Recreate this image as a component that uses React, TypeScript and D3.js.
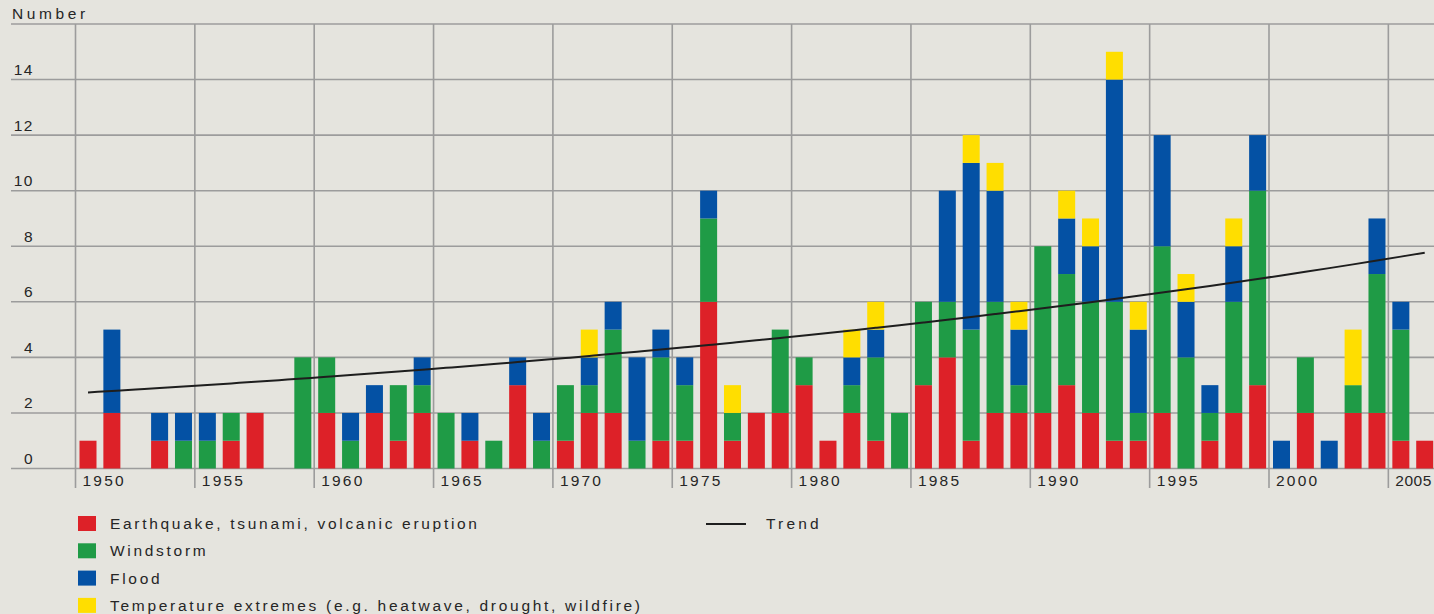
import React, { useEffect } from "react";
import * as d3 from "d3";

const years = [
  1950, 1951, 1952, 1953, 1954, 1955, 1956, 1957, 1958, 1959,
  1960, 1961, 1962, 1963, 1964, 1965, 1966, 1967, 1968, 1969,
  1970, 1971, 1972, 1973, 1974, 1975, 1976, 1977, 1978, 1979,
  1980, 1981, 1982, 1983, 1984, 1985, 1986, 1987, 1988, 1989,
  1990, 1991, 1992, 1993, 1994, 1995, 1996, 1997, 1998, 1999,
  2000, 2001, 2002, 2003, 2004, 2005, 2006,
];

const earthquake = [
  1, 2, 0, 1, 0, 0, 1, 2, 0, 0,
  2, 0, 2, 1, 2, 0, 1, 0, 3, 0,
  1, 2, 2, 0, 1, 1, 6, 1, 2, 2,
  3, 1, 2, 1, 0, 3, 4, 1, 2, 2,
  2, 3, 2, 1, 1, 2, 0, 1, 2, 3,
  0, 2, 0, 2, 2, 1, 1,
];
const windstorm = [
  0, 0, 0, 0, 1, 1, 1, 0, 0, 4,
  2, 1, 0, 2, 1, 2, 0, 1, 0, 1,
  2, 1, 3, 1, 3, 2, 3, 1, 0, 3,
  1, 0, 1, 3, 2, 3, 2, 4, 4, 1,
  6, 4, 4, 5, 1, 6, 4, 1, 4, 7,
  0, 2, 0, 1, 5, 4, 0,
];
const flood = [
  0, 3, 0, 1, 1, 1, 0, 0, 0, 0,
  0, 1, 1, 0, 1, 0, 1, 0, 1, 1,
  0, 1, 1, 3, 1, 1, 1, 0, 0, 0,
  0, 0, 1, 1, 0, 0, 4, 6, 4, 2,
  0, 2, 2, 8, 3, 4, 2, 1, 2, 2,
  1, 0, 1, 0, 2, 1, 0,
];
const temperature = [
  0, 0, 0, 0, 0, 0, 0, 0, 0, 0,
  0, 0, 0, 0, 0, 0, 0, 0, 0, 0,
  0, 1, 0, 0, 0, 0, 0, 1, 0, 0,
  0, 0, 1, 1, 0, 0, 0, 1, 1, 1,
  0, 1, 1, 1, 1, 0, 1, 0, 1, 0,
  0, 0, 0, 2, 0, 0, 0,
];

const seriesKeys = ["earthquake", "windstorm", "flood", "temperature"];
const seriesLabels = [
  "Earthquake, tsunami, volcanic eruption",
  "Windstorm",
  "Flood",
  "Temperature extremes (e.g. heatwave, drought, wildfire)",
];
const seriesColors = ["#dd2128", "#1f9b46", "#0451a4", "#ffde00"];

const yTicks = [0, 2, 4, 6, 8, 10, 12, 14, 16];
const yTickLabels = ["0", "2", "4", "6", "8", "10", "12", "14", ""];
const xTickYears = [1950, 1955, 1960, 1965, 1970, 1975, 1980, 1985, 1990, 1995, 2000, 2005];

// Trend (exponential fit) end values
const trendYears = [1950, 2006];
const trendValues = [2.74, 7.77];

const W = 1434;
const H = 614;
const FONT = "'Liberation Sans', Arial, Helvetica, sans-serif";
const BG = "#e5e4de";
const GRID = "#9c9c9c";
const TEXT = "#262626";

export default function App() {
  useEffect(() => {
    document.body.style.margin = "0";
    document.body.style.background = BG;
  }, []);

  const rows = years.map((yr, i) => ({
    year: yr,
    earthquake: earthquake[i],
    windstorm: windstorm[i],
    flood: flood[i],
    temperature: temperature[i],
  }));
  const stacked = d3.stack<any>().keys(seriesKeys)(rows);

  const step = 23.87;
  const pIn = 1 - 17 / step;
  const x0 = 79.5;
  const x = d3
    .scaleBand<number>()
    .domain(years)
    .range([x0, x0 + step * (years.length - pIn)])
    .paddingInner(pIn)
    .paddingOuter(0);
  const bw = x.bandwidth();

  const y = d3.scaleLinear().domain([0, 16]).range([468.5, 24]);

  const gridLeft = 11;
  const gridRight = W;

  const lineX = (yr: number) => (x(yr) as number) - 4;

  const t0 = trendYears[0];
  const t1 = trendYears[1];
  const trendPts = years.map((yr) => {
    const f = (yr - t0) / (t1 - t0);
    const v = Math.exp(Math.log(trendValues[0]) + f * (Math.log(trendValues[1]) - Math.log(trendValues[0])));
    return [(x(yr) as number) + bw / 2, y(v)] as [number, number];
  });
  const trendPath = d3.line().curve(d3.curveMonotoneX)(trendPts) || "";

  const fs = 15.5;
  const ls = 2.7;

  return (
    <svg
      width={W}
      height={H}
      style={{ position: "absolute", left: 0, top: 0, background: BG, display: "block" }}
      fontFamily={FONT}
    >
      <rect x={0} y={0} width={W} height={H} fill={BG} />
      <text x={12} y={19} fontSize={fs} fill={TEXT} letterSpacing={3.6}>
        Number
      </text>

      {yTicks.map((t) => (
        <line key={"h" + t} x1={gridLeft} x2={gridRight} y1={y(t)} y2={y(t)} stroke={GRID} strokeWidth={1.6} />
      ))}
      {yTicks.map((t, i) => (
        <text key={"yl" + t} x={34} y={y(t) - 4.5} fontSize={fs} fill={TEXT} textAnchor="end" letterSpacing={1.5}>
          {yTickLabels[i]}
        </text>
      ))}
      {xTickYears.map((yr) => (
        <line
          key={"v" + yr}
          x1={lineX(yr)}
          x2={lineX(yr)}
          y1={y(16)}
          y2={488}
          stroke={GRID}
          strokeWidth={1.6}
        />
      ))}
      {xTickYears.map((yr, i) => (
        <text
          key={"xl" + yr}
          x={lineX(yr) + 7}
          y={486}
          fontSize={fs}
          fill={TEXT}
          letterSpacing={i === xTickYears.length - 1 ? 0.5 : 2.2}
        >
          {yr}
        </text>
      ))}

      {stacked.map((s, si) => (
        <g key={s.key} fill={seriesColors[si]}>
          {s.map((d, di) =>
            d[1] - d[0] > 0 ? (
              <rect
                key={di}
                x={x(years[di]) as number}
                y={y(d[1])}
                width={bw}
                height={y(d[0]) - y(d[1])}
              />
            ) : null
          )}
        </g>
      ))}

      <path d={trendPath} fill="none" stroke="#1e1e1e" strokeWidth={2} />

      {seriesLabels.map((lab, i) => (
        <g key={lab} transform={`translate(0, ${516 + i * 27.3})`}>
          <rect x={78} y={0} width={18} height={15} fill={seriesColors[i]} />
          <text x={110} y={13} fontSize={fs} fill={TEXT} letterSpacing={ls}>
            {lab}
          </text>
        </g>
      ))}
      <line x1={706} x2={746} y1={524} y2={524} stroke="#1e1e1e" strokeWidth={2} />
      <text x={766} y={529} fontSize={fs} fill={TEXT} letterSpacing={3.2}>
        Trend
      </text>
    </svg>
  );
}
